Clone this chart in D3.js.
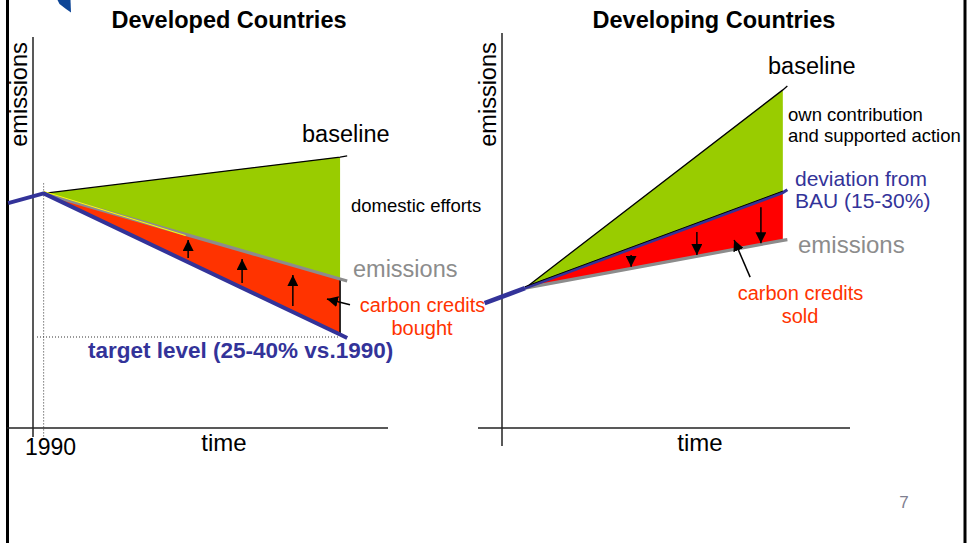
<!DOCTYPE html>
<html>
<head>
<meta charset="utf-8">
<script src="https://cdn.jsdelivr.net/npm/d3@7"></script>
<style>
  html, body { margin: 0; padding: 0; background: #fff; }
  svg { display: block; }
  text { font-family: "Liberation Sans", Arial, sans-serif; }
</style>
</head>
<body>
<svg id="slide" width="968" height="543"></svg>
<script>
// ---- Data (abstract units: time 0..100, emissions 0..100) ----
// Developed countries: time points = pre-1990, 1990, horizon, end of drawn lines
const leftTime      = [-7, 3, 86.5, 88.5];
const leftBaseline  = [null, 60, 69.3, 69.6];
const leftEmissions = [null, 60, 38.1, 37.6];
const leftTarget    = [57.5, 60, 23.9, 23.0];
// arrows showing credits bought (time, from, to)
const leftArrows = [
  { t: 43.7, from: 43.5, to: 48.1 },
  { t: 58.9, from: 37.1, to: 43.2 },
  { t: 73.2, from: 31.2, to: 39.1 }
];
const leftPointer = { t0: 89.3, e0: 31.5, t1: 82.8, e1: 33.0 };

// Developing countries
const rightTime      = [-5, 6.6, 80.7, 82];
const rightBaseline  = [null, 35.4, 85.6, 86.6];
const rightDeviation = [31.6, 35.4, 59.6, 60.3];
const rightEmissions = [null, 35.4, 47.5, 47.7];
const rightArrows = [
  { t: 37.1, from: 43.8, to: 40.8 },
  { t: 56.0, from: 49.6, to: 43.8 },
  { t: 74.4, from: 55.9, to: 46.8 }
];
const rightPointer = { t0: 71.3, e0: 38.2, t1: 66.7, e1: 47.6 };

const panelTitles = ["Developed Countries", "Developing Countries"];
const tickLabels = ["1990"];

// ---- Colours ----
const GREEN = "#99cc00", RED_L = "#ff3300", RED_R = "#ff0000",
      BLUE = "#333399", GREY = "#8c8c8c", AXIS = "#222";

const svg = d3.select("#slide");

// slide frame and logo corner
svg.append("line").attr("x1", 7.5).attr("x2", 7.5).attr("y1", 0).attr("y2", 543)
  .attr("stroke", "#000").attr("stroke-width", 3);
svg.append("line").attr("x1", 965).attr("x2", 965).attr("y1", 0).attr("y2", 543)
  .attr("stroke", "#000").attr("stroke-width", 3);
svg.append("path").attr("d", "M57.5,0 L70.5,0 L71,12.5 L66,9 L59.5,4 Z")
  .attr("fill", "#0d4596");

// arrowhead marker
const defs = svg.append("defs");
defs.append("marker").attr("id", "head")
  .attr("markerUnits", "userSpaceOnUse")
  .attr("viewBox", "0 0 10 10").attr("refX", 10).attr("refY", 5)
  .attr("markerWidth", 11).attr("markerHeight", 11)
  .attr("orient", "auto")
  .append("path").attr("d", "M0,0 L10,5 L0,10 Z").attr("fill", "#000");

function pts(time, vals, from, to) {
  const out = [];
  for (let i = from; i <= to; i++) if (vals[i] != null) out.push([time[i], vals[i]]);
  return out;
}

function drawPanel(g, cfg) {
  const x = cfg.x, y = cfg.y;
  const line = d3.line().x(d => x(d[0])).y(d => y(d[1]));

  // axes
  g.append("line").attr("x1", x(0)).attr("x2", x(0))
    .attr("y1", y(100)).attr("y2", cfg.yAxisBottom)
    .attr("stroke", AXIS).attr("stroke-width", 1.5);
  g.append("line").attr("x1", cfg.xAxisLeft).attr("x2", x(100))
    .attr("y1", y(0)).attr("y2", y(0))
    .attr("stroke", AXIS).attr("stroke-width", 1.5);

  // filled wedges
  const T = cfg.time;
  const green = [[T[1], cfg.top[1]], [T[2], cfg.top[2]], [T[2], cfg.mid[2]], [T[1], cfg.mid[1]]];
  const red   = [[T[1], cfg.mid[1]], [T[2], cfg.mid[2]], [T[2], cfg.bot[2]], [T[1], cfg.bot[1]]];
  g.append("path").attr("d", line(green) + "Z").attr("fill", GREEN);
  g.append("path").attr("d", line(red) + "Z").attr("fill", cfg.red);

  return line;
}

// ---------- Developed countries ----------
{
  const x = d3.scaleLinear().domain([0, 100]).range([33, 388]);
  const y = d3.scaleLinear().domain([0, 100]).range([428, 37]);
  const g = svg.append("g");

  // 1990 reference guides
  g.append("line").attr("x1", x(leftTime[1])).attr("x2", x(leftTime[1]))
    .attr("y1", y(leftTarget[1]) - 10).attr("y2", 437)
    .attr("stroke", "#333").attr("stroke-width", 1).attr("stroke-dasharray", "1,2");
  g.append("line").attr("x1", 37).attr("x2", x(leftTime[2]))
    .attr("y1", 337).attr("y2", 337)
    .attr("stroke", "#333").attr("stroke-width", 1).attr("stroke-dasharray", "1,2");

  const line = drawPanel(g, {
    x, y, time: leftTime, top: leftBaseline, mid: leftEmissions, bot: leftTarget,
    red: RED_L, yAxisBottom: 437, xAxisLeft: 7
  });

  // red wedge right edge
  g.append("line").attr("x1", x(leftTime[2])).attr("x2", x(leftTime[2]))
    .attr("y1", y(leftEmissions[2])).attr("y2", y(leftTarget[2]))
    .attr("stroke", "#000").attr("stroke-width", 1.5);

  g.append("path").attr("d", line(pts(leftTime, leftBaseline, 1, 3)))
    .attr("fill", "none").attr("stroke", "#000").attr("stroke-width", 1.2);
  g.append("path").attr("d", line(pts(leftTime, leftEmissions, 1, 3)))
    .attr("fill", "none").attr("stroke", GREY).attr("stroke-width", 3.2);
  // thin yellow rim along the start of the emissions path
  g.append("path").attr("d", line([[leftTime[1], leftEmissions[1]], [43, 48.7]]))
    .attr("transform", "translate(0,-2)")
    .attr("fill", "none").attr("stroke", "#ffff00").attr("stroke-width", 1);
  g.append("path").attr("d", line(pts(leftTime, leftTarget, 0, 3)))
    .attr("fill", "none").attr("stroke", BLUE).attr("stroke-width", 4)
    .attr("stroke-linejoin", "round");

  leftArrows.forEach(a => {
    g.append("line").attr("x1", x(a.t)).attr("x2", x(a.t))
      .attr("y1", y(a.from)).attr("y2", y(a.to))
      .attr("stroke", "#000").attr("stroke-width", 1.5).attr("marker-end", "url(#head)");
  });
  g.append("line").attr("x1", x(leftPointer.t0)).attr("y1", y(leftPointer.e0))
    .attr("x2", x(leftPointer.t1)).attr("y2", y(leftPointer.e1))
    .attr("stroke", "#000").attr("stroke-width", 1.5).attr("marker-end", "url(#head)");

  // labels
  g.append("text").attr("x", 229).attr("y", 28).attr("text-anchor", "middle")
    .attr("font-size", 23.5).attr("font-weight", "bold").text(panelTitles[0]);
  g.append("text").attr("transform", "translate(27,94.5) rotate(-90)")
    .attr("text-anchor", "middle").attr("font-size", 23.5).text("emissions");
  g.append("text").attr("x", 302).attr("y", 142).attr("font-size", 23.5).text("baseline");
  g.append("text").attr("x", 351).attr("y", 212).attr("font-size", 18.5).text("domestic efforts");
  g.append("text").attr("x", 353).attr("y", 277).attr("font-size", 23.5)
    .attr("fill", GREY).text("emissions");
  g.append("text").attr("x", 422.5).attr("y", 312).attr("text-anchor", "middle")
    .attr("font-size", 20).attr("fill", RED_L).text("carbon credits");
  g.append("text").attr("x", 422).attr("y", 335).attr("text-anchor", "middle")
    .attr("font-size", 20).attr("fill", RED_L).text("bought");
  g.append("text").attr("x", 88).attr("y", 358).attr("font-size", 22.5)
    .attr("font-weight", "bold").attr("fill", BLUE).text("target level (25-40% vs.1990)");
  g.append("text").attr("x", 25).attr("y", 455).attr("font-size", 23).text(tickLabels[0]);
  g.append("text").attr("x", 224).attr("y", 451).attr("text-anchor", "middle")
    .attr("font-size", 24).text("time");
}

// ---------- Developing countries ----------
{
  const x = d3.scaleLinear().domain([0, 100]).range([502, 850]);
  const y = d3.scaleLinear().domain([0, 100]).range([428, 33]);
  const g = svg.append("g");

  const line = drawPanel(g, {
    x, y, time: rightTime, top: rightBaseline, mid: rightDeviation, bot: rightEmissions,
    red: RED_R, yAxisBottom: 446, xAxisLeft: 478
  });

  g.append("path").attr("d", line(pts(rightTime, rightBaseline, 1, 3)))
    .attr("fill", "none").attr("stroke", "#000").attr("stroke-width", 1.3);
  g.append("path").attr("d", line(pts(rightTime, rightEmissions, 1, 3)))
    .attr("fill", "none").attr("stroke", GREY).attr("stroke-width", 3.2);
  g.append("path").attr("d", line(pts(rightTime, rightDeviation, 1, 3)))
    .attr("fill", "none").attr("stroke", BLUE).attr("stroke-width", 3);
  g.append("path").attr("d", line(pts(rightTime, rightDeviation, 1, 2)))
    .attr("transform", "translate(0,-1.5)")
    .attr("fill", "none").attr("stroke", "#000").attr("stroke-width", 1);
  g.append("path").attr("d", line(pts(rightTime, rightDeviation, 0, 1)))
    .attr("fill", "none").attr("stroke", BLUE).attr("stroke-width", 4.5)
    .attr("stroke-linecap", "butt");

  rightArrows.forEach(a => {
    g.append("line").attr("x1", x(a.t)).attr("x2", x(a.t))
      .attr("y1", y(a.from)).attr("y2", y(a.to))
      .attr("stroke", "#000").attr("stroke-width", 1.5).attr("marker-end", "url(#head)");
  });
  g.append("line").attr("x1", x(rightPointer.t0)).attr("y1", y(rightPointer.e0))
    .attr("x2", x(rightPointer.t1)).attr("y2", y(rightPointer.e1))
    .attr("stroke", "#000").attr("stroke-width", 1.5).attr("marker-end", "url(#head)");

  g.append("text").attr("x", 714).attr("y", 28).attr("text-anchor", "middle")
    .attr("font-size", 23.5).attr("font-weight", "bold").text(panelTitles[1]);
  g.append("text").attr("transform", "translate(496,94.5) rotate(-90)")
    .attr("text-anchor", "middle").attr("font-size", 23.5).text("emissions");
  g.append("text").attr("x", 768).attr("y", 74).attr("font-size", 23.5).text("baseline");
  g.append("text").attr("x", 788).attr("y", 121).attr("font-size", 18.5).text("own contribution");
  g.append("text").attr("x", 788).attr("y", 142).attr("font-size", 18.5).text("and supported action");
  g.append("text").attr("x", 795).attr("y", 186).attr("font-size", 21)
    .attr("fill", BLUE).text("deviation from");
  g.append("text").attr("x", 795).attr("y", 208).attr("font-size", 21)
    .attr("fill", BLUE).text("BAU (15-30%)");
  g.append("text").attr("x", 798).attr("y", 253).attr("font-size", 24)
    .attr("fill", GREY).text("emissions");
  g.append("text").attr("x", 800.5).attr("y", 300).attr("text-anchor", "middle")
    .attr("font-size", 20).attr("fill", RED_L).text("carbon credits");
  g.append("text").attr("x", 800).attr("y", 323).attr("text-anchor", "middle")
    .attr("font-size", 20).attr("fill", RED_L).text("sold");
  g.append("text").attr("x", 700).attr("y", 451).attr("text-anchor", "middle")
    .attr("font-size", 24).text("time");
}

// page number
svg.append("text").attr("x", 904).attr("y", 508).attr("text-anchor", "middle")
  .attr("font-size", 17).attr("fill", "#7f8090").text("7");
</script>
</body>
</html>
